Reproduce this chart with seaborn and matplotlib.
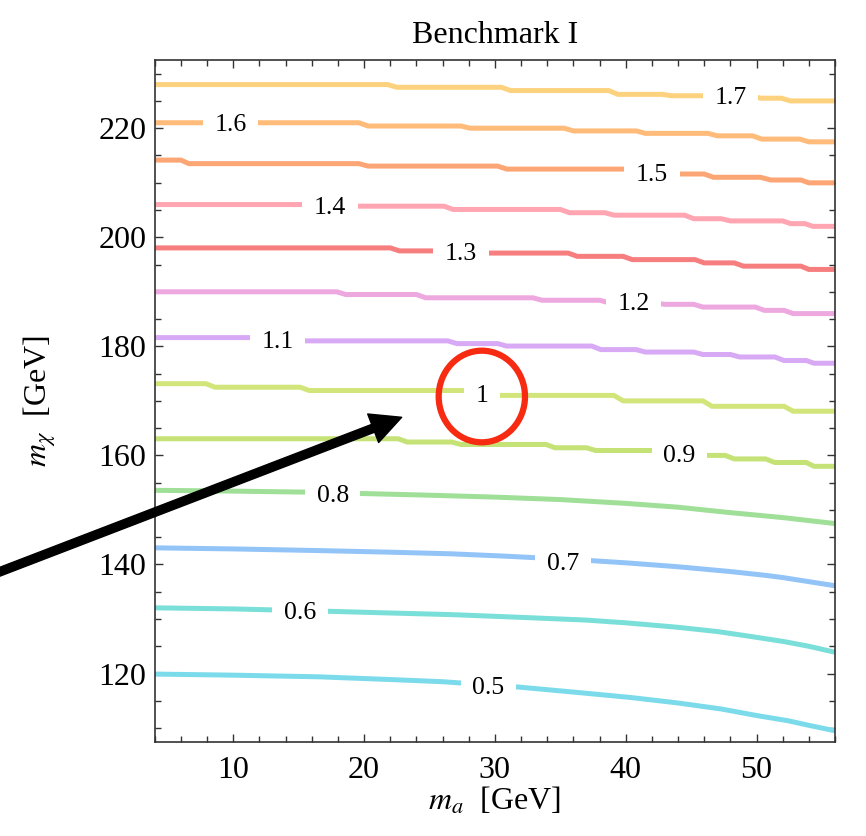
import matplotlib
matplotlib.use("Agg")
import matplotlib.pyplot as plt
from matplotlib.patches import Ellipse
from matplotlib.ticker import MultipleLocator
import pandas as pd
import seaborn as sns

# Contour levels of the ratio and their line colours
levels = [0.5, 0.6, 0.7, 0.8, 0.9, 1.0, 1.1, 1.2, 1.3, 1.4, 1.5, 1.6, 1.7]
level_text = ["0.5", "0.6", "0.7", "0.8", "0.9", "1", "1.1", "1.2", "1.3", "1.4", "1.5", "1.6", "1.7"]
level_colors = ["#7cdbea", "#7adfd8", "#93c4f7", "#9fdf98", "#c4e276", "#d2e57a",
                "#d8aaf5", "#eda8e0", "#f77e7e", "#ffa6b2", "#fca675", "#ffbb7a", "#fdd27f"]

# Contour traces: m_a [GeV] and m_chi [GeV] along each level
ma_05 = [4, 10, 16.5, 22, 26, 31.9, 36, 40.4, 44, 47.3, 50, 52.4, 54, 56]
mchi_05 = [119.9, 119.7, 119.4, 118.9, 118.5, 117.5, 116.6, 115.6, 114.6, 113.5, 112.3, 111.35, 110.5, 109.5]

ma_06 = [4, 10, 17.5, 22, 26.7, 32, 37, 40, 43.9, 47, 49, 52, 54, 56]
mchi_06 = [132.05, 131.85, 131.4, 131.1, 130.8, 130.3, 129.8, 129.3, 128.5, 127.7, 127.0, 125.9, 125.0, 123.9]

ma_07 = [4, 10, 16.5, 22, 26.7, 31, 35, 37.4, 40, 43.9, 48, 50.7, 52, 56]
mchi_07 = [143.05, 142.85, 142.55, 142.25, 141.95, 141.5, 141.0, 140.7, 140.3, 139.6, 138.7, 138.0, 137.6, 136.1]

ma_08 = [4, 10, 16, 20, 25, 30, 35, 40, 44, 48, 52, 56]
mchi_08 = [153.6, 153.45, 153.25, 153.0, 152.7, 152.35, 151.9, 151.2, 150.5, 149.5, 148.6, 147.5]

ma_09 = [4, 22.6, 23.3, 26.7, 27.4, 33.9, 34.6, 37.0, 37.7, 43.5, 44.5, 47.6, 48.3, 50.7, 51.4, 53.8, 54.4, 56]
mchi_09 = [163.05, 163.05, 162.45, 162.45, 162.0, 162.0, 161.4, 161.4, 160.9, 160.9,
           160.0, 160.0, 159.35, 159.35, 158.7, 158.7, 158.0, 158.0]

ma_10 = [4, 7.9, 8.6, 15.1, 15.8, 28.5, 29.5, 39.1, 39.8, 45.9, 46.6, 52.1, 52.8, 56]
mchi_10 = [173.15, 173.15, 172.5, 172.5, 171.9, 171.9, 171.0, 171.0, 170.0, 170.0, 169.0, 169.0, 168.1, 168.1]

ma_11 = [4, 14.0, 15.0, 26.4, 27.1, 30.2, 30.9, 37.4, 38.1, 40.8, 41.5, 45.2, 45.9,
         48.0, 48.7, 51.4, 52.1, 53.8, 54.4, 56]
mchi_11 = [181.6, 181.6, 181.0, 181.0, 180.5, 180.5, 180.05, 180.05, 179.4, 179.4, 178.95, 178.95,
           178.5, 178.5, 178.05, 178.05, 177.4, 177.4, 176.9, 176.9]

ma_12 = [4, 17.9, 18.6, 24.0, 24.7, 32.9, 33.6, 38.0, 38.7, 42.0, 43.0, 45.2, 45.9, 49.9, 50.6, 52.1, 52.8, 56]
mchi_12 = [190.0, 190.0, 189.5, 189.5, 188.9, 188.9, 188.45, 188.45, 188.0, 188.0,
           187.7, 187.7, 187.2, 187.2, 186.6, 186.6, 186.0, 186.0]

ma_13 = [4, 22.0, 22.7, 27.0, 28.0, 35.6, 36.3, 39.8, 40.5, 45.3, 46.0, 48.3, 49.0, 53.4, 54.0, 56]
mchi_13 = [198.05, 198.05, 197.5, 197.5, 197.1, 197.1, 196.5, 196.5, 195.9, 195.9,
           195.3, 195.3, 194.7, 194.7, 194.1, 194.1]

ma_14 = [4, 17.4, 18.0, 26.1, 26.8, 35.0, 35.7, 38.4, 39.1, 44.5, 45.2, 47.3, 48.0, 52.0, 52.6, 53.7, 54.3, 56]
mchi_14 = [206.0, 206.0, 205.7, 205.7, 205.1, 205.1, 204.5, 204.5, 204.05, 204.05,
           203.4, 203.4, 203.0, 203.0, 202.5, 202.5, 202.0, 202.0]

ma_15 = [4, 6.0, 6.6, 19.6, 20.3, 30.2, 30.9, 41.5, 42.5, 46.0, 46.7, 50.3, 51.1, 53.4, 54.0, 56]
mchi_15 = [214.15, 214.15, 213.5, 213.5, 213.05, 213.05, 212.5, 212.5, 211.6, 211.6,
           211.0, 211.0, 210.5, 210.5, 209.98, 209.98]

ma_16 = [4, 19.6, 20.3, 27.4, 28.1, 35.3, 36.0, 40.8, 41.5, 46.3, 47.0, 49.7, 50.4, 53.3, 54.0, 56]
mchi_16 = [221.0, 221.0, 220.4, 220.4, 220.0, 220.0, 219.5, 219.5, 219.05, 219.05,
           218.6, 218.6, 218.0, 218.0, 217.5, 217.5]

ma_17 = [4, 21.8, 22.5, 30.5, 31.2, 38.7, 39.4, 42.8, 43.5, 49.6, 50.3, 51.9, 52.6, 56]
mchi_17 = [228.0, 228.0, 227.5, 227.5, 226.9, 226.9, 226.2, 226.2, 225.95, 225.95, 225.5, 225.5, 225.0, 225.0]

# Where each contour carries its inline label
label_ma = [29.5, 15.1, 35.2, 17.6, 44.1, 29.05, 13.4, 40.6, 27.4, 17.4, 42.0, 9.8, 48.0]
label_mchi = [117.8, 131.5, 140.5, 153.0, 160.4, 171.3, 181.3, 188.2, 197.3, 205.9, 211.9, 221.0, 226.0]

traces = [(ma_05, mchi_05), (ma_06, mchi_06), (ma_07, mchi_07), (ma_08, mchi_08),
          (ma_09, mchi_09), (ma_10, mchi_10), (ma_11, mchi_11), (ma_12, mchi_12),
          (ma_13, mchi_13), (ma_14, mchi_14), (ma_15, mchi_15), (ma_16, mchi_16),
          (ma_17, mchi_17)]

rows = []
for lev, (xs, ys) in zip(levels, traces):
    for x, y in zip(xs, ys):
        rows.append({"m_a": x, "m_chi": y, "level": lev})
df = pd.DataFrame(rows)

sns.set_style("ticks")
plt.rcParams["font.family"] = ["Liberation Serif", "DejaVu Serif"]
plt.rcParams["mathtext.fontset"] = "stix"
plt.rcParams["text.color"] = "black"
plt.rcParams["axes.labelcolor"] = "black"
plt.rcParams["xtick.labelcolor"] = "black"
plt.rcParams["ytick.labelcolor"] = "black"

fig = plt.figure(figsize=(8.66, 8.36), dpi=100)
ax = fig.add_axes([0.1788, 0.1128, 0.7854, 0.8154])

palette = dict(zip(levels, level_colors))
sns.lineplot(data=df, x="m_a", y="m_chi", hue="level", palette=palette,
             estimator=None, sort=False, legend=False, linewidth=3.6, ax=ax)
for line in ax.get_lines():
    line.set_solid_capstyle("butt")
    line.set_solid_joinstyle("miter")

# inline contour labels with a white gap in the line
for txt, x, y in zip(level_text, label_ma, label_mchi):
    ax.text(x, y, txt, fontsize=18.5, color="black", ha="center", va="center_baseline", zorder=4,
            bbox=dict(boxstyle="square,pad=0.45", facecolor="white", edgecolor="none"))

ax.set_xlim(4, 56)
ax.set_ylim(107.5, 232.5)
ax.xaxis.set_major_locator(MultipleLocator(10))
ax.xaxis.set_minor_locator(MultipleLocator(2))
ax.yaxis.set_major_locator(MultipleLocator(20))
ax.yaxis.set_minor_locator(MultipleLocator(5))

frame_color = "#333333"
for sp in ax.spines.values():
    sp.set_visible(True)
    sp.set_color(frame_color)
    sp.set_linewidth(1.2)
ax.tick_params(which="both", direction="in", top=True, right=True,
               color=frame_color, width=1.0, labelsize=23, labelcolor="black")
ax.tick_params(which="major", length=6)
ax.tick_params(which="minor", length=4)
ax.tick_params(axis="x", which="major", pad=10)
ax.tick_params(axis="y", which="major", pad=6)

ax.set_title("Benchmark I", fontsize=23, pad=12.5, color="black")
ax.set_xlabel(r"$m_a$  [GeV]", fontsize=23, color="black")
ax.set_ylabel(r"$m_\chi$  [GeV]", fontsize=23, color="black")
ax.xaxis.set_label_coords(0.5, -0.064)
ax.yaxis.set_label_coords(-0.142, 0.5)

# highlight of the unit contour and pointer to it
ax.add_patch(Ellipse((29.0, 170.8), width=6.6, height=16.8, fill=False,
                     edgecolor="#f72a12", linewidth=4.5, zorder=5, clip_on=False))
ax.annotate("", xy=(401.7, 418.7), xycoords="figure pixels",
            xytext=(-12, 259.7), textcoords="figure pixels",
            arrowprops=dict(width=6, headwidth=22, headlength=22,
                            facecolor="black", edgecolor="black", shrink=0),
            annotation_clip=False, zorder=6)

fig.savefig("out.png", dpi=100)
